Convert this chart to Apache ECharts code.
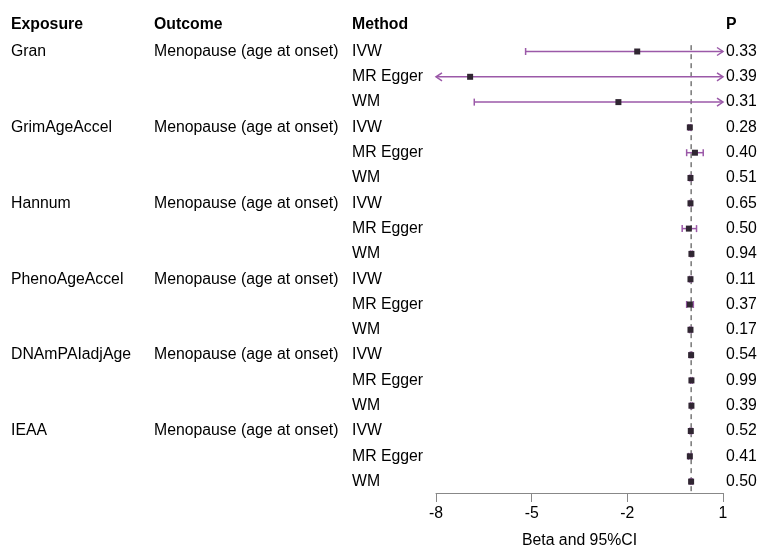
<!DOCTYPE html>
<html>
<head>
<meta charset="utf-8">
<script src="https://cdn.jsdelivr.net/npm/echarts@6/dist/echarts.min.js"></script>
<style>
html,body{margin:0;padding:0;background:#fff;}
#chart{width:759px;height:546px;}
</style>
</head>
<body>
<div id="chart"></div>
<script>
var headers = ['Exposure', 'Outcome', 'Method', 'P'];
var exposures = ['Gran', 'GrimAgeAccel', 'Hannum', 'PhenoAgeAccel', 'DNAmPAIadjAge', 'IEAA'];
var outcomeName = 'Menopause (age at onset)';
var methods = ['IVW', 'MR Egger', 'WM'];
var beta  = [-1.69, -6.93, -2.28, -0.04, 0.12, -0.02, -0.02, -0.07, 0.01, -0.02, -0.04, -0.02, 0.00, 0.01, 0.01, -0.01, -0.04, 0.00];
var lower = [-5.19, -22.7, -6.80, -0.07, -0.14, -0.05, -0.05, -0.28, -0.02, -0.05, -0.14, -0.05, -0.03, -0.02, -0.02, -0.04, -0.08, -0.03];
var upper = [ 1.81,  8.90,  2.24, -0.01,  0.38,  0.01,  0.01,  0.17,  0.04,  0.01,  0.07,  0.01,  0.03,  0.04,  0.04,  0.02,  0.01,  0.03];
var pvals = ['0.33', '0.39', '0.31', '0.28', '0.40', '0.51', '0.65', '0.50', '0.94', '0.11', '0.37', '0.17', '0.54', '0.99', '0.39', '0.52', '0.41', '0.50'];
var xTicks = [-8, -5, -2, 1];

var XMIN = -8, XMAX = 1;
var nRows = beta.length;
var FONT = '"Liberation Sans", Arial, sans-serif';
var FS = 15.8;
var PURPLE = '#9b59a8';

var tableData = [];
for (var i = 0; i < nRows; i++) {
  var e = Math.floor(i / 3), m = i % 3;
  tableData.push([i + 1, m === 0 ? exposures[e] : '', m === 0 ? outcomeName : '', methods[m], pvals[i]]);
}
var ciData = [];
var ptData = [];
for (var j = 0; j < nRows; j++) {
  ciData.push([lower[j], upper[j], j + 1]);
  ptData.push([beta[j], j + 1]);
}

var colX = [11, 154, 352, 726];

var chart = echarts.init(document.getElementById('chart'), null, {renderer: 'canvas'});
chart.setOption({
  animation: false,
  backgroundColor: '#fff',
  grid: {left: 436, right: 36, top: 26.2, bottom: 53, containLabel: false, outerBoundsMode: 'none'},
  xAxis: {
    type: 'value', min: XMIN, max: XMAX, interval: 3,
    splitLine: {show: false},
    axisLine: {show: true, onZero: false, lineStyle: {color: '#888', width: 1}},
    axisTick: {show: true, length: 9, lineStyle: {color: '#888', width: 1}},
    axisLabel: {fontFamily: FONT, fontSize: FS, color: '#000', margin: 13,
      formatter: function (v) { return xTicks.indexOf(v) >= 0 ? String(v) : ''; }},
    name: 'Beta and 95%CI', nameLocation: 'middle', nameGap: 40,
    nameTextStyle: {fontFamily: FONT, fontSize: FS, color: '#000'}
  },
  yAxis: {
    type: 'value', inverse: true, min: 0, max: 18.45, show: false
  },
  series: [
    {
      type: 'custom', coordinateSystem: 'cartesian2d', clip: false, silent: true,
      data: [[0]],
      renderItem: function (params, api) {
        var y = api.coord([XMIN, 0])[1] - 2;
        var kids = [];
        for (var c = 0; c < headers.length; c++) {
          kids.push({type: 'text', style: {text: headers[c], x: colX[c], y: y,
            fontFamily: FONT, fontSize: FS, fontWeight: 'bold', fill: '#000',
            verticalAlign: 'middle', align: 'left'}});
        }
        return {type: 'group', children: kids};
      }
    },
    {
      type: 'custom', coordinateSystem: 'cartesian2d', clip: false, silent: true,
      data: tableData,
      encode: {x: -1, y: 0},
      renderItem: function (params, api) {
        var row = api.value(0);
        var y = api.coord([XMIN, row])[1];
        var d = tableData[params.dataIndex];
        var kids = [];
        for (var c = 1; c <= 4; c++) {
          if (!d[c]) continue;
          kids.push({type: 'text', style: {text: d[c], x: colX[c - 1], y: y,
            fontFamily: FONT, fontSize: FS, fill: '#000',
            verticalAlign: 'middle', align: 'left'}});
        }
        return {type: 'group', children: kids};
      }
    },
    {
      type: 'line', silent: true, symbol: 'none', z: 2,
      data: [[0, 0.75], [0, 18.45]],
      lineStyle: {color: '#333', width: 1, type: [5, 4]}
    },
    {
      type: 'custom', coordinateSystem: 'cartesian2d', clip: false, silent: true, z: 3,
      data: ciData,
      encode: {x: [0, 1], y: 2},
      renderItem: function (params, api) {
        var lo = api.value(0), hi = api.value(1), row = api.value(2);
        var loC = Math.max(lo, XMIN), hiC = Math.min(hi, XMAX);
        var p1 = api.coord([loC, row]), p2 = api.coord([hiC, row]);
        var st = {stroke: PURPLE, lineWidth: 1.5, fill: null};
        var kids = [{type: 'line', shape: {x1: p1[0], y1: p1[1], x2: p2[0], y2: p2[1]}, style: st}];
        var y = p1[1];
        if (lo < XMIN) {
          kids.push({type: 'polyline', shape: {points: [[p1[0] + 6, y - 4], [p1[0], y], [p1[0] + 6, y + 4]]}, style: st});
        } else {
          kids.push({type: 'line', shape: {x1: p1[0], y1: y - 3.5, x2: p1[0], y2: y + 3.5}, style: st});
        }
        if (hi > XMAX) {
          kids.push({type: 'polyline', shape: {points: [[p2[0] - 6, y - 4], [p2[0], y], [p2[0] - 6, y + 4]]}, style: st});
        } else {
          kids.push({type: 'line', shape: {x1: p2[0], y1: y - 3.5, x2: p2[0], y2: y + 3.5}, style: st});
        }
        return {type: 'group', children: kids};
      }
    },
    {
      type: 'scatter', silent: true, z: 4,
      data: ptData,
      symbol: 'rect', symbolSize: 6,
      itemStyle: {color: '#302632', opacity: 1}
    }
  ]
});
</script>
</body>
</html>
